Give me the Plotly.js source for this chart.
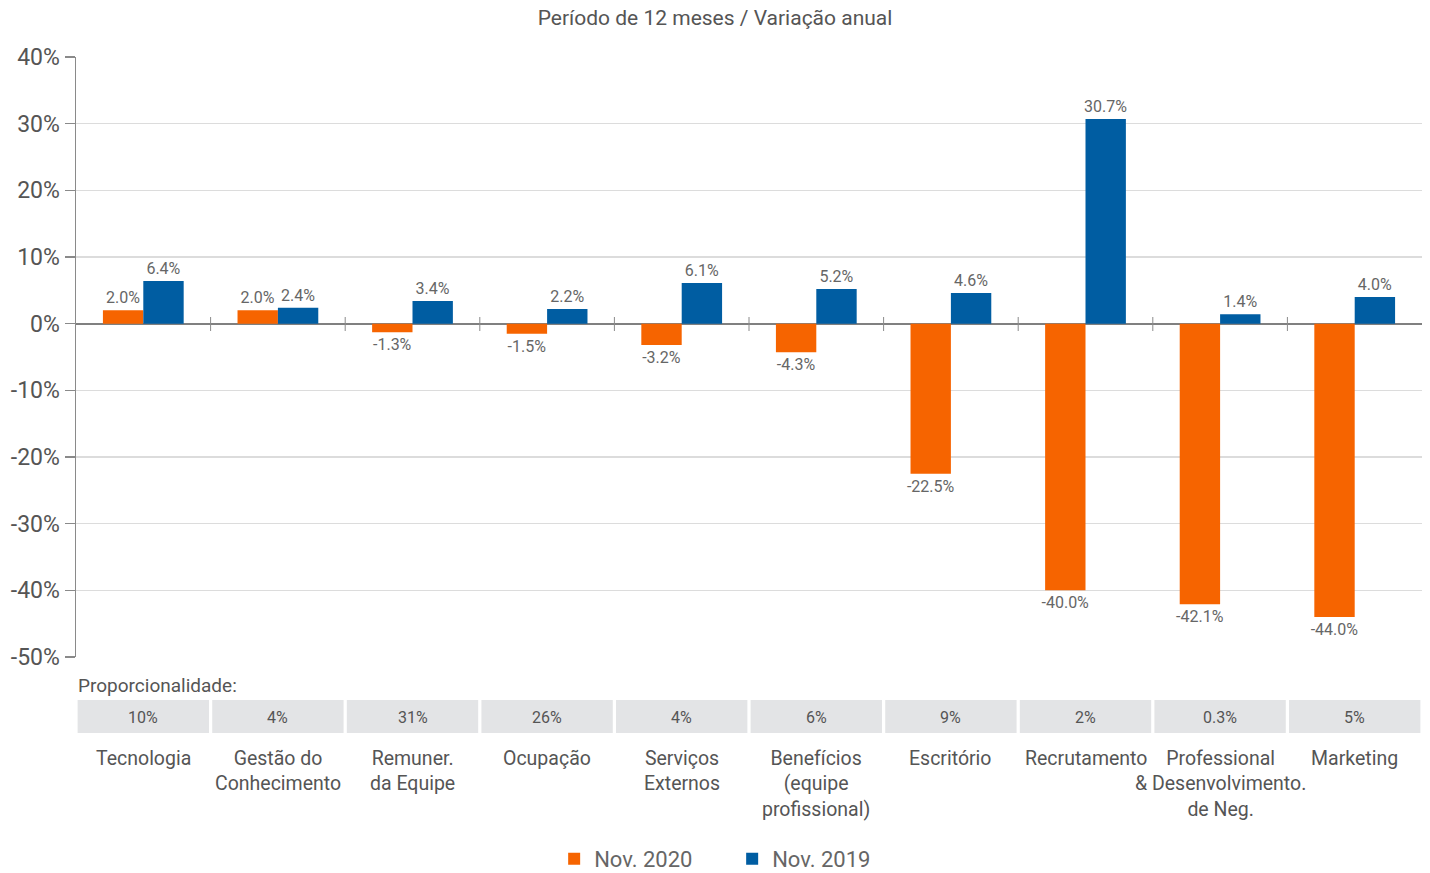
<!DOCTYPE html>
<html>
<head>
<meta charset="utf-8">
<script src="https://cdn.plot.ly/plotly-3.0.1.min.js"></script>
<style>
  html, body { margin: 0; padding: 0; background: #fff; }
  #chart { width: 1430px; height: 873px; }
</style>
</head>
<body>
<div id="chart"></div>
<script>
// Expense categories (multi-line labels shown under the proportion row)
const categories = [
  'Tecnologia',
  'Gestão do<br>Conhecimento',
  'Remuner.<br>da Equipe',
  'Ocupação',
  'Serviços<br>Externos',
  'Benefícios<br>(equipe<br>profissional)',
  'Escritório',
  'Recrutamento',
  'Professional<br>& Desenvolvimento.<br>de Neg.',
  'Marketing'
];

// Year-over-year change, in percent
const nov2020 = [2.0, 2.0, -1.3, -1.5, -3.2, -4.3, -22.5, -40.0, -42.1, -44.0];
const nov2019 = [6.4, 2.4, 3.4, 2.2, 6.1, 5.2, 4.6, 30.7, 1.4, 4.0];

// Share of total expenses per category
const proportions = ['10%', '4%', '31%', '26%', '4%', '6%', '9%', '2%', '0.3%', '5%'];

// Y axis ticks (plain hyphen for negatives)
const yTickVals = [40, 30, 20, 10, 0, -10, -20, -30, -40, -50];
const yTickText = ['40%', '30%', '20%', '10%', '0%', '-10%', '-20%', '-30%', '-40%', '-50%'];

const seriesNames = ['Nov. 2020', 'Nov. 2019'];
const ORANGE = '#F66400';
const BLUE = '#005DA2';
const FONT = 'Roboto, "Noto Sans", sans-serif';

// Plot area geometry (pixels) used to place the table rows below the axis
const W = 1430, H = 873;
const M = { l: 76, r: 8, t: 57, b: 216 };
const plotH = H - M.t - M.b;
const plotBottom = H - M.b;
const py = (px) => (plotBottom - px) / plotH; // page pixel row -> paper y

const barText = { family: FONT, size: 16, color: '#666' };

const traces = [
  {
    type: 'bar', name: seriesNames[0], x: categories, y: nov2020,
    marker: { color: ORANGE },
    texttemplate: '%{y:.1f}%', textposition: 'outside', constraintext: 'none',
    textfont: barText, cliponaxis: false, hoverinfo: 'skip'
  },
  {
    type: 'bar', name: seriesNames[1], x: categories, y: nov2019,
    marker: { color: BLUE },
    texttemplate: '%{y:.1f}%', textposition: 'outside', constraintext: 'none',
    textfont: barText, cliponaxis: false, hoverinfo: 'skip'
  }
];

const shapes = [];
const annotations = [];

// Small separators crossing the zero line between categories
for (let i = 0; i < categories.length - 1; i++) {
  shapes.push({
    type: 'line', xref: 'x', yref: 'y',
    x0: i + 0.5, x1: i + 0.5, y0: 1.0, y1: -1.1,
    line: { color: '#8a8a8a', width: 1 }
  });
}

// Proportion row: grey cells with the share value
annotations.push({
  xref: 'paper', yref: 'paper', x: 0, y: py(685),
  xanchor: 'left', yanchor: 'middle', showarrow: false,
  text: 'Proporcionalidade:',
  font: { family: FONT, size: 19, color: '#555' }
});
const gap = 0.012;
for (let i = 0; i < categories.length; i++) {
  shapes.push({
    type: 'rect', xref: 'x', yref: 'paper', layer: 'below',
    x0: i - 0.5 + gap, x1: i + 0.5 - gap, y0: py(700), y1: py(733),
    fillcolor: '#E3E4E6', line: { width: 0 }
  });
  annotations.push({
    xref: 'x', yref: 'paper', x: i, y: py(717),
    xanchor: 'center', yanchor: 'middle', showarrow: false,
    text: proportions[i],
    font: { family: FONT, size: 16, color: '#555' }
  });
  annotations.push({
    xref: 'x', yref: 'paper', x: i, y: py(745),
    xanchor: 'center', yanchor: 'top', showarrow: false, align: 'center',
    text: categories[i],
    font: { family: FONT, size: 19.5, color: '#555' }
  });
}

const layout = {
  width: W, height: H,
  margin: M,
  paper_bgcolor: '#fff', plot_bgcolor: '#fff',
  font: { family: FONT, color: '#555' },
  title: {
    text: 'Período de 12 meses / Variação anual',
    font: { family: FONT, size: 21, color: '#555' },
    x: 0.5, xanchor: 'center', y: 1 - 18 / H, yanchor: 'middle'
  },
  barmode: 'group', bargap: 0.4, bargroupgap: 0,
  xaxis: {
    type: 'category', range: [-0.5, categories.length - 0.5],
    showticklabels: false, showgrid: false, showline: false,
    zeroline: false, ticks: '', fixedrange: true
  },
  yaxis: {
    range: [-50, 40], tickmode: 'array', tickvals: yTickVals, ticktext: yTickText,
    showgrid: true, gridcolor: '#DCDCDC', gridwidth: 1.5,
    zeroline: true, zerolinecolor: '#808080', zerolinewidth: 2,
    showline: true, linecolor: '#8a8a8a', linewidth: 1.5,
    ticks: 'outside', ticklen: 10, tickcolor: '#8a8a8a', tickwidth: 1.5,
    tickfont: { family: FONT, size: 23, color: '#555' },
    fixedrange: true
  },
  showlegend: true,
  legend: {
    orientation: 'h', xref: 'container', yref: 'container',
    x: 0.512, xanchor: 'center',
    y: (H - 859) / H, yanchor: 'middle',
    font: { family: FONT, size: 22, color: '#666' },
    itemwidth: 30, entrywidth: 133, tracegroupgap: 0
  },
  shapes: shapes,
  annotations: annotations
};

Plotly.newPlot('chart', traces, layout, { displayModeBar: false, staticPlot: true });
</script>
</body>
</html>
